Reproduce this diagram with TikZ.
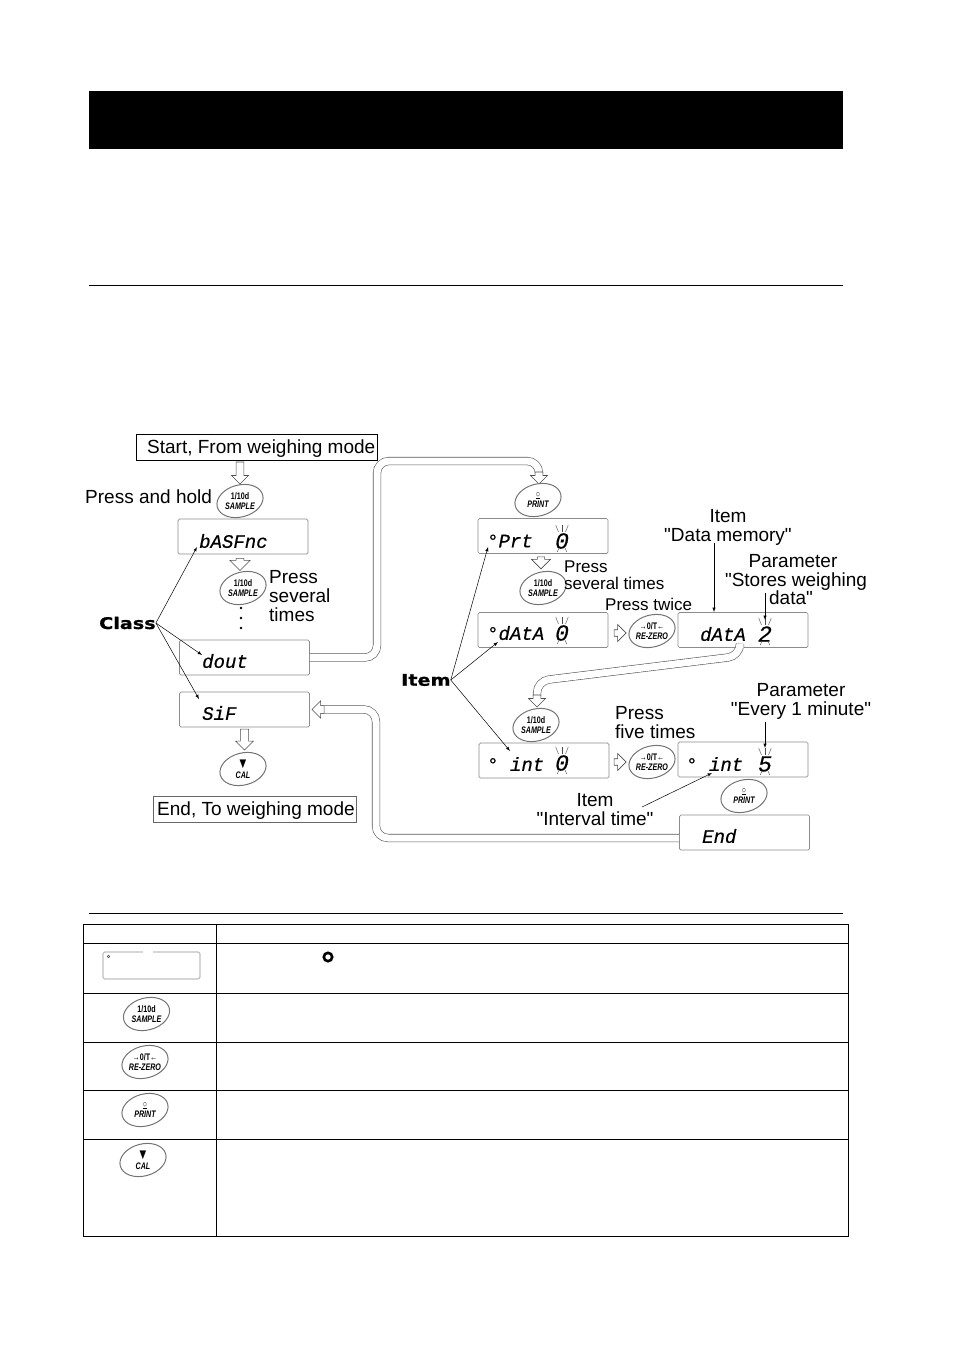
\documentclass[tikz,border=0pt]{standalone}
\usepackage{fontspec}
\setmainfont[Ligatures=TeXOff]{Liberation Sans}
\newfontfamily\lcdfont[ItalicFeatures={FakeBold=0.5}]{Liberation Mono}
\newfontfamily\heavyfont[FakeStretch=1.2,BoldFeatures={FakeBold=1}]{DejaVu Sans}
\newfontfamily\keyfont[FakeStretch=0.75]{Liberation Sans}
\usetikzlibrary{shapes.geometric,shapes.arrows}
\tikzset{
  lbl/.style={inner sep=0pt,font=\fontsize{19}{21}\selectfont},
  lblsmall/.style={inner sep=0pt,font=\fontsize{17}{19}\selectfont},
  heavy/.style={inner sep=0pt,font=\heavyfont\bfseries\fontsize{16}{18}\selectfont},
  display/.style={draw=black!45,rounded corners=1.5pt,line width=0.7pt,minimum width=130pt,minimum height=35pt,inner sep=0pt},
  lcd/.style={inner sep=0pt,anchor=west,font=\lcdfont\itshape\fontsize{19}{21}\selectfont},
  lcddigit/.style={inner sep=0pt,font=\lcdfont\itshape\fontsize{23}{25}\selectfont},
  keyoval/.style={draw=black!55,ellipse,line width=1pt,minimum width=47pt,minimum height=32pt,inner sep=0pt,rotate=15},
  keylabel/.style={inner sep=0pt,align=center,font=\keyfont\bfseries\fontsize{9.5}{10.5}\selectfont},
  hollow/.style={draw=black!70,fill=white,single arrow,line width=0.6pt,inner sep=3.5pt,single arrow head extend=4.5pt,single arrow head indent=0pt},
  pipe/.style={draw=black!65,double=white,double distance=7pt,line width=0.6pt,rounded corners=12pt},
  thin arrow/.style={-latex,line width=0.5pt}
}
\newcommand{\keybtn}[5]{%
  \node[keyoval] (#1) at (#2,#3) {};
  \node[keylabel] (#1t) at (#2,#3) {#4\\\itshape #5};
}
\newcommand{\symdown}{{\fontsize{15}{10}\selectfont ▼}}
\newcommand{\symring}{\underline{○}}
% Blinkzeichen rund um eine Ziffer
\newcommand{\blinkmarks}[2]{%
  \foreach \dx in {-3.5,0,3.5} \draw[line width=0.4pt,black!70] (#1+\dx,#2-9) -- (#1+1.8*\dx,#2-16);
  \foreach \dx in {-3,3} \draw[line width=0.4pt,black!70] (#1+\dx,#2+7) -- (#1+1.6*\dx,#2+11);
}
\begin{document}
\begin{tikzpicture}[x=1pt,y=-1pt]
\useasboundingbox (0,0) rectangle (954,1350);
% Kopfbalken und Trennlinien
\fill (89,91) rectangle (843,149);
\draw[line width=0.6pt] (89,285.5) -- (843,285.5);
\draw[line width=0.6pt] (89,913) -- (843,913);
% Rahmen oben und unten links
\node[draw,line width=0.7pt,minimum width=241pt,minimum height=26pt,inner sep=0pt] (startbox) at (257,447) {};
\node[lbl,anchor=west] (tstart) at (147,448.5) {Start, From weighing mode};
\node[draw=black!60,line width=0.7pt,minimum width=203pt,minimum height=26pt,inner sep=0pt] (endbox) at (255,809) {};
\node[lbl,anchor=west] (tendbox) at (157,810.5) {End, To weighing mode};
% Anzeigen
\node[display] (basfnc) at (243,536.5) {};
\node[display] (dout) at (244.5,657.5) {};
\node[display] (sif) at (244.5,709.5) {};
\node[display] (prt) at (543,536) {};
\node[display] (data) at (543,630) {};
\node[display] (datatwo) at (743,630) {};
\node[display] (int) at (544,760.5) {};
\node[display] (intfive) at (743,759.5) {};
\node[display] (endd) at (744.5,832.5) {};
\node[lcd] (tbasfnc) at (199,541) {bASFnc};
\node[lcd] (tdout) at (202,661) {dout};
\node[lcd] (tsif) at (202,713) {SiF};
\node[lcd] (tprt) at (487,541) {°Prt};
\node[lcd] (tdata) at (487,633) {°dAtA};
\node[lcd] (tdatatwo) at (700,634) {dAtA};
\node[lcd] (tint) at (487,764) {° int};
\node[lcd] (tintfive) at (686,764) {° int};
\node[lcd] (tend) at (702,836) {End};
% Ziffern mit Blinkzeichen
\node[lcddigit] (dprt) at (562,541) {0};
\node[lcddigit] (ddata) at (562,633) {0};
\node[lcddigit] (dint) at (562,763) {0};
\node[lcddigit] (dtwo) at (765,634) {2};
\node[lcddigit] (dfive) at (765,764) {5};
\blinkmarks{562}{541}
\blinkmarks{562}{633}
\blinkmarks{562}{763}
\blinkmarks{765}{634}
\blinkmarks{765}{764}
% breite Verbindungen
\coordinate (pipeA) at (539,474);
\coordinate (pipeB) at (537,696);
\draw[pipe] (dout.east) -- (377,657.5) -- (377,461) -- (539,461) -- (pipeA);
\draw[pipe] (740,647.8) -- (740,656) -- (537,681) -- (pipeB);
\draw[pipe] (endd.west |- 0,838) -- (376,838) -- (376,709.5) -- (sif.east -| 320,0);
% hohle Pfeile
\node[hollow,shape border rotate=270,minimum width=17pt,minimum height=22pt] (ar1) at (240,471) {};
\node[hollow,shape border rotate=270,minimum width=20pt,minimum height=12pt,inner sep=2.5pt] (ar2) at (240,562.5) {};
\node[hollow,shape border rotate=270,minimum width=18pt,minimum height=21pt] (ar3) at (244.5,737.5) {};
\node[hollow,shape border rotate=270,minimum width=19pt,minimum height=12pt,inner sep=2.5pt] (ar4) at (541,561) {};
\node[hollow,shape border rotate=0,minimum width=17pt,minimum height=12pt,inner sep=2.5pt] (ar5) at (618.5,633) {};
\node[hollow,shape border rotate=0,minimum width=17pt,minimum height=12pt,inner sep=2.5pt] (ar6) at (618.5,762) {};
\node[hollow,shape border rotate=270,minimum width=17pt,minimum height=12pt] (ar7) at (539,476) {};
\node[hollow,shape border rotate=270,minimum width=17pt,minimum height=12pt] (ar8) at (537,699) {};
\node[hollow,shape border rotate=180,minimum width=17pt,minimum height=12pt] (ar9) at (320,709.5) {};
% Tasten
\keybtn{kone}{240}{501}{1/10d}{SAMPLE}
\keybtn{ktwo}{243}{588}{1/10d}{SAMPLE}
\keybtn{kprint}{538}{500}{\symring}{PRINT}
\keybtn{kthree}{543}{588}{1/10d}{SAMPLE}
\keybtn{kzero}{652}{631}{→0/T←}{RE-ZERO}
\keybtn{kfour}{536}{725}{1/10d}{SAMPLE}
\keybtn{kfive}{652}{762}{→0/T←}{RE-ZERO}
\keybtn{kprinttwo}{744}{796}{\symring}{PRINT}
\keybtn{kcal}{243}{769}{\symdown}{CAL}
% Punkte
\fill (241,608) circle (1.3pt);
\fill (241,618) circle (1.3pt);
\fill (241,628) circle (1.3pt);
% Beschriftungen links
\node[lbl,anchor=west] (hold) at (85,497) {Press and hold};
\node[lbl,anchor=west] (pa) at (269,577) {Press};
\node[lbl,anchor=west] (pb) at (269,596) {several};
\node[lbl,anchor=west] (pc) at (269,615) {times};
\node[heavy,anchor=west] (class) at (99,623) {Class};
\node[heavy,anchor=west] (item) at (401,680) {Item};
\draw[thin arrow] (class.east) -- (197,547);
\draw[thin arrow] (class.east) -- (202,655);
\draw[thin arrow] (class.east) -- (199,699);
\draw[thin arrow] (item.east) -- (488,547);
\draw[thin arrow] (item.east) -- (498,642);
\draw[thin arrow] (item.east) -- (510,751);
% Beschriftungen rechts
\node[lbl] (iaa) at (728,516) {Item};
\node[lbl] (iab) at (728,537) {"Data memory"};
\node[lbl] (para) at (793,561) {Parameter};
\node[lbl] (parb) at (796,582) {"Stores weighing};
\node[lbl] (parc) at (791,598) {data"};
\node[lblsmall,anchor=west] (qa) at (564,567) {Press};
\node[lblsmall,anchor=west] (qb) at (564,583) {several times};
\node[lblsmall,anchor=west] (qc) at (605,604) {Press twice};
\node[lbl,anchor=west] (qd) at (615,713) {Press};
\node[lbl,anchor=west] (qe) at (615,732) {five times};
\node[lbl] (pard) at (801,690) {Parameter};
\node[lbl] (pare) at (801,711) {"Every 1 minute"};
\node[lbl] (iba) at (595,800) {Item};
\node[lbl] (ibb) at (595,819) {"Interval time"};
\draw[thin arrow] (714,543) -- (714,612);
\draw[thin arrow] (765,593) -- (765,620);
\draw[thin arrow] (765,722) -- (765,748);
\draw[thin arrow] (642,807) -- (712,773);
% Tabelle
\draw[line width=0.7pt] (83.5,924) rectangle (848.5,1236.5);
\draw[line width=0.7pt] (216,924) -- (216,1236.5);
\foreach \y in {943.5,993,1042,1090.5,1139.5} \draw[line width=0.7pt] (83.5,\y) -- (848.5,\y);
\node[draw=black!45,rounded corners=1.5pt,line width=0.6pt,minimum width=97pt,minimum height=27pt,inner sep=0pt] (tdisp) at (151.5,965.5) {};
\draw[white,line width=1.5pt] (143,952) -- (153,952);
\draw[black!70,line width=0.6pt] (108.5,956.5) circle (1.2pt);
\draw[line width=2.6pt] (328,957) circle (4.2pt);
\keybtn{tkone}{146.5}{1014}{1/10d}{SAMPLE}
\keybtn{tktwo}{145}{1062}{→0/T←}{RE-ZERO}
\keybtn{tkthree}{145}{1110}{\symring}{PRINT}
\keybtn{tkfour}{143}{1160}{\symdown}{CAL}
\end{tikzpicture}
\end{document}
